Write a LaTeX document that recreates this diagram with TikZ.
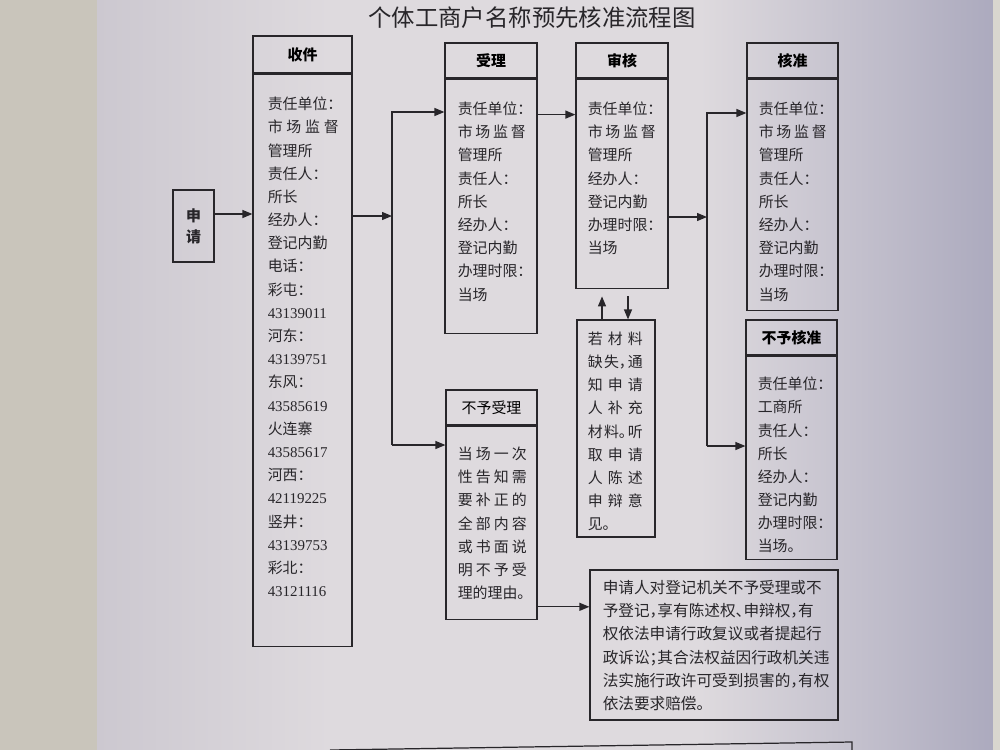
\documentclass[tikz,border=0pt]{standalone}
\usepackage{fontspec}
\setmainfont{Noto Sans CJK SC}[RawFeature=+halt]
\newfontfamily\num{Liberation Serif}
\usetikzlibrary{arrows.meta}

\definecolor{desk}{RGB}{201,197,187}
\definecolor{paperl}{RGB}{204,200,208}
\definecolor{paper}{RGB}{222,218,222}
\definecolor{papershade}{RGB}{172,170,190}
\definecolor{ink}{RGB}{40,38,42}

\newcommand{\bodyfont}{\fontsize{8.5}{13.2}\selectfont}
\newcommand{\spr}[2]{\makebox[#1][s]{#2}}

\tikzset{
	hbox/.style={draw=ink, line width=0.7pt, minimum height=0.7cm, inner sep=0pt, font=\bodyfont\bfseries},
	bbox/.style={draw=ink, line width=0.7pt, inner sep=0pt, anchor=north},
	txt/.style={anchor=north west, inner sep=0pt, align=left, text=ink, font=\bodyfont},
	arr/.style={draw=ink, line width=0.7pt, -{Triangle[length=2mm,width=1.6mm]}},
	ln/.style={draw=ink, line width=0.7pt},
}

\begin{document}
\begin{tikzpicture}[x=0.02cm, y=-0.02cm]
		\useasboundingbox (0,0) rectangle (1000,750);
		\clip (0,0) rectangle (1000,750);
		\fill[desk] (0,0) rectangle (97,750);
		\shade[left color=paperl, right color=paper] (97,0) rectangle (330,750);
		\fill[paper] (330,0) rectangle (700,750);
		\shade[left color=paper, right color=papershade] (700,0) rectangle (993,750);
		\fill[desk!70!white] (993,0) rectangle (1000,750);

		\node[text=ink, font=\fontsize{13.3}{16}\selectfont] (title) at (532,18) {个体工商户名称预先核准流程图};

		\node[draw=ink, line width=0.7pt, minimum width=0.82cm, minimum height=1.44cm, align=center, inner sep=0pt, text=ink, font=\fontsize{8.5}{12}\selectfont\bfseries] (sq) at (193.5,226) {申\\请};

		\node[hbox, minimum width=1.98cm, minimum height=0.74cm] (sj) at (302.5,54.5) {收件};
		\node[bbox, minimum width=1.98cm, minimum height=11.44cm] (sjb) at (sj.south) {};
		\node[txt] (sjt) at ([shift={(15,23)}]sjb.north west) {责任单位：\\\spr{1.42cm}{市\hfill 场\hfill 监\hfill 督}\\管理所\\责任人：\\所长\\经办人：\\登记内勤\\电话：\\彩屯：\\{\num 43139011}\\河东：\\{\num 43139751}\\东风：\\{\num 43585619}\\火连寨\\{\num 43585617}\\河西：\\{\num 42119225}\\竖井：\\{\num 43139753}\\彩北：\\{\num 43121116}};

		\node[hbox, minimum width=1.84cm] (sl) at (491,60.5) {受理};
		\node[bbox, minimum width=1.84cm, minimum height=5.08cm] (slb) at (sl.south) {};
		\node[txt] (slt) at ([shift={(13,23)}]slb.north west) {责任单位：\\\spr{1.36cm}{市\hfill 场\hfill 监\hfill 督}\\管理所\\责任人：\\所长\\经办人：\\登记内勤\\办理时限：\\当场};

		\node[hbox, minimum width=1.84cm] (sh) at (622,60.5) {审核};
		\node[bbox, minimum width=1.84cm, minimum height=4.18cm] (shb) at (sh.south) {};
		\node[txt] (sht) at ([shift={(12,23)}]shb.north west) {责任单位：\\\spr{1.36cm}{市\hfill 场\hfill 监\hfill 督}\\管理所\\经办人：\\登记内勤\\办理时限：\\当场};

		\node[hbox, minimum width=1.82cm] (hz) at (792.5,60.5) {核准};
		\node[bbox, minimum width=1.82cm, minimum height=4.62cm] (hzb) at (hz.south) {};
		\node[txt] (hzt) at ([shift={(12,23)}]hzb.north west) {责任单位：\\\spr{1.36cm}{市\hfill 场\hfill 监\hfill 督}\\管理所\\责任人：\\所长\\经办人：\\登记内勤\\办理时限：\\当场};

		\node[hbox, minimum width=1.82cm] (bhz) at (791.5,337.5) {不予核准};
		\node[bbox, minimum width=1.82cm, minimum height=4.06cm] (bhzb) at (bhz.south) {};
		\node[txt] (bhzt) at ([shift={(12,21)}]bhzb.north west) {责任单位：\\工商所\\责任人：\\所长\\经办人：\\登记内勤\\办理时限：\\当场。};

		\node[draw=ink, line width=0.7pt, inner sep=0pt, minimum width=1.56cm, minimum height=4.34cm] (bcl) at (616,428.5) {};
		\node[txt] (bclt) at ([shift={(11,12)}]bcl.north west) {\spr{1.1cm}{若\hfill 材\hfill 料}\\\spr{1.1cm}{缺\hfill 失，\hfill 通}\\\spr{1.1cm}{知\hfill 申\hfill 请}\\\spr{1.1cm}{人\hfill 补\hfill 充}\\\spr{1.1cm}{材\hfill 料。\hfill 听}\\\spr{1.1cm}{取\hfill 申\hfill 请}\\\spr{1.1cm}{人\hfill 陈\hfill 述}\\\spr{1.1cm}{申\hfill 辩\hfill 意}\\见。};

		\node[hbox, minimum width=1.82cm, font=\bodyfont] (bsl) at (491.5,407.5) {不予受理};
		\node[bbox, minimum width=1.82cm, minimum height=3.86cm] (bslb) at (bsl.south) {};
		\node[txt] (bslt) at ([shift={(12,21)}]bslb.north west) {\spr{1.38cm}{当\hfill 场\hfill 一\hfill 次}\\\spr{1.38cm}{性\hfill 告\hfill 知\hfill 需}\\\spr{1.38cm}{要\hfill 补\hfill 正\hfill 的}\\\spr{1.38cm}{全\hfill 部\hfill 内\hfill 容}\\\spr{1.38cm}{或\hfill 书\hfill 面\hfill 说}\\\spr{1.38cm}{明\hfill 不\hfill 予\hfill 受}\\理的理由。};

		\node[draw=ink, line width=0.7pt, inner sep=0pt, minimum width=4.96cm, minimum height=3cm] (fy) at (714,645) {};
		\node[txt, font=\fontsize{8.9}{13.1}\selectfont] (fyt) at ([shift={(13,11)}]fy.north west) {申请人对登记机关不予受理或不\\予登记，享有陈述权、申辩权，有\\权依法申请行政复议或者提起行\\政诉讼；其合法权益因行政机关违\\法实施行政许可受到损害的，有权\\依法要求赔偿。};

		\draw[ln] (330,750) -- (852,742) -- (852,760);

		\coordinate (sqa) at ([yshift=0.24cm]sq.east);
		\draw[arr] (sqa) -- (sqa -| sjb.west);

		\coordinate (ja) at (392,216);
		\coordinate (jat) at (392,112);
		\coordinate (jab) at (392,445);
		\draw[arr] (sjb.east |- ja) -- (ja);
		\draw[arr] (jab) -- (jat) -- (jat -| slb.west);
		\draw[arr] (jab) -- (jab -| bslb.west);

		\coordinate (sla) at ([yshift=-0.72cm]slb.north east);
		\draw[arr] (sla) -- (sla -| shb.west);

		\coordinate (jb) at (707,217);
		\coordinate (jbt) at (707,113);
		\coordinate (jbb) at (707,446);
		\draw[arr] (shb.east |- jb) -- (jb);
		\draw[arr] (jbb) -- (jbt) -- (jbt -| hzb.west);
		\draw[arr] (jbb) -- (jbb -| bhzb.west);

		\coordinate (ua) at ([xshift=-0.28cm]bcl.north);
		\coordinate (da) at ([xshift=0.24cm]bcl.north);
		\draw[arr] (ua) -- ([yshift=0.46cm]ua);
		\draw[arr] ([yshift=0.46cm]da) -- (da);

		\coordinate (fa) at ([yshift=0.26cm]bslb.south east);
		\draw[arr] (fa) -- (fa -| fy.west);
	\end{tikzpicture}
\end{document}
